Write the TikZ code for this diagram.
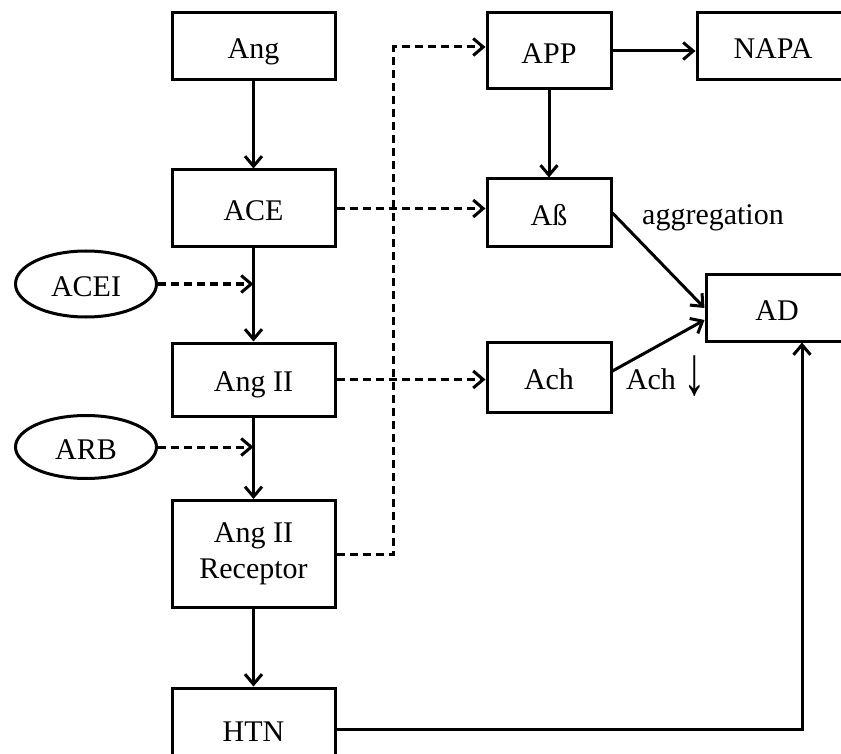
\documentclass[tikz,border=0pt]{standalone}
\usepackage{fontspec}
\setmainfont{Liberation Serif}
\usepackage{tikz}
\usetikzlibrary{calc}
\usetikzlibrary{arrows.meta}
\usetikzlibrary{shapes}

\begin{document}
\begin{tikzpicture}[x=1pt,y=-1pt,>={Straight Barb[length=10pt,width=17pt]}]
    \tikzstyle{b}=[shape=rectangle,draw,line width=3pt,minimum width=163pt,inner sep=0pt,text height=0.83em,text depth=0pt]
    \tikzstyle{s}=[shape=rectangle,draw,line width=3pt,minimum width=124pt,inner sep=0pt,text height=0.83em,text depth=0pt]
    \tikzstyle{e}=[shape=ellipse,draw,line width=3pt,minimum width=141pt,inner sep=0pt,text height=0.83em,text depth=0pt]
    \tikzstyle{l}=[->,line width=3pt]
    \tikzstyle{d}=[->,line width=3pt,dash pattern=on 8pt off 5pt]
    \fontsize{30}{36}\selectfont

    \clip (0,0) rectangle (841,754);

    % renin-angiotensin chain
    \coordinate (ang_c) at (253.5,46.5);
    \node[b,minimum height=67pt] (ang) at (ang_c) {Ang};

    \coordinate (ace_c) at ($(ang_c) + (0,162)$);
    \node[b,minimum height=77pt] (ace) at (ace_c) {ACE};

    \draw[l] (ang) -- (ace);

    \coordinate (angii_c) at ($(ace_c) + (0,171)$);
    \node[b,minimum height=73pt] (angii) at (angii_c) {Ang II};

    \draw[l] (ace) -- (angii);

    \coordinate (rec_c) at ($(angii_c) + (0,174.5)$);
    \node[draw,line width=3pt,minimum width=163pt,minimum height=107pt,inner sep=0pt,align=center] (rec) at (rec_c) {Ang II\\Receptor};

    \draw[l] (angii) -- (rec);

    \coordinate (htn_c) at ($(rec_c) + (0,175)$);
    \node[b,minimum height=82pt] (htn) at (htn_c) {HTN};

    \draw[l] (rec) -- (htn);

    % inhibitors
    \node[e,minimum height=66pt] (acei) at (86,284) {ACEI};
    \draw[d] (acei.east) -- (acei.east -| ace.south);

    \node[e,minimum height=63pt] (arb) at (86,447) {ARB};
    \draw[d] (arb.east) -- (arb.east -| angii.south);

    % amyloid side
    \coordinate (app_c) at (549,51);
    \node[s,minimum height=76pt] (app) at (app_c) {APP};

    \node[s,minimum width=152pt,minimum height=67pt] (napa) at (773,46.5) {NAPA};

    \draw[l] (app) -- (app.east -| napa.west);

    \coordinate (ab_c) at ($(app_c) + (0,162)$);
    \node[s,minimum height=68pt] (ab) at (ab_c) {Aß};

    \draw[l] (app) -- (ab);

    \coordinate (ach_c) at ($(ab_c) + (0,164)$);
    \node[s,minimum height=70pt] (ach) at (ach_c) {Ach};

    % dashed effects
    \draw[d] (ace.east) -- (ace.east -| ab.west);
    \draw[d] (angii.east) -- (angii.east -| ach.west);
    \draw[d] (rec.east) -- ++(57,0) |- ([yshift=4pt]app.west);

    % disease
    \node[s,minimum width=142pt,minimum height=66pt] (ad) at (777,308) {AD};

    \draw[l] (ab.east) -- (ad.west);
    \draw[l] ([yshift=6pt]ach.east) -- ([yshift=-12pt]ad.west);
    \draw[l] (htn.east) -| ([xshift=25pt]ad.south);

    \node[text height=0.83em,text depth=0pt] (agg) at (713,212) {aggregation};
    \node[text height=0.83em,text depth=0pt] (achdown) at (666,377) {Ach \raisebox{-5pt}{\scalebox{1.5}[2.3]{↓}}};

\end{tikzpicture}
\end{document}
